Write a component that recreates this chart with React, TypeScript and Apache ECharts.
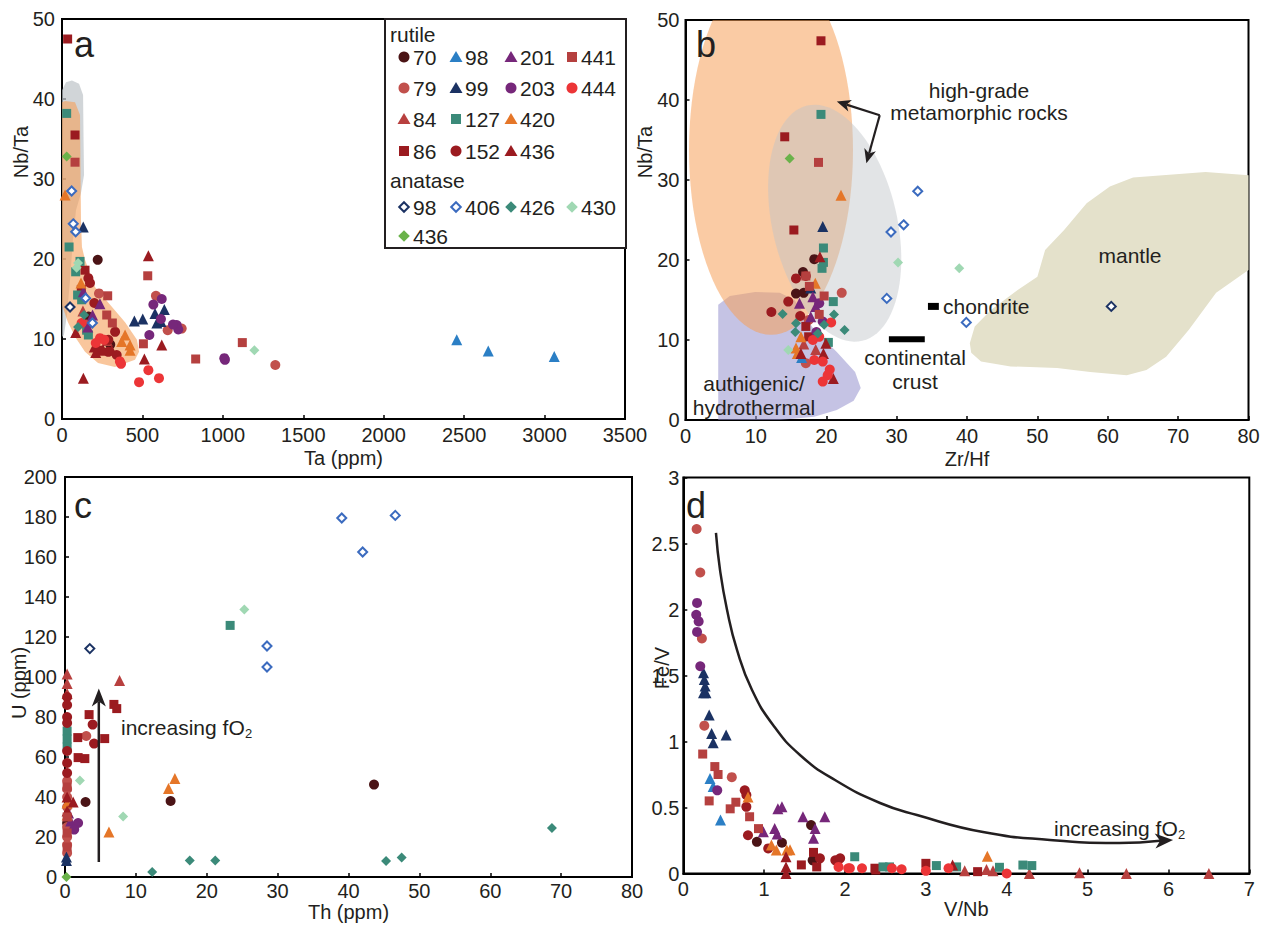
import React, { useEffect, useRef } from "react";
import * as echarts from "echarts";

type Pt = [number, number];

// ---------------- categories ----------------
const RUTILE_LEGEND: string[][] = [
  ["70", "79", "84", "86"],
  ["98", "99", "127", "152"],
  ["201", "203", "420", "436"],
  ["441", "444"],
];
const ANATASE_LEGEND: string[][] = [["98", "406", "426", "430"], ["436"]];

// ---------------- axis ranges [min, max, interval] ----------------
const TA_RANGE = [0, 3500, 500];
const NBTA_RANGE = [0, 50, 10];
const ZRHF_RANGE = [0, 80, 10];
const TH_RANGE = [0, 80, 10];
const U_RANGE = [0, 200, 20];
const VNB_RANGE = [0, 7, 1];
const FEV_RANGE = [0, 3, 0.5];

// ---------------- panel a: Ta (ppm) vs Nb/Ta ----------------
const a_r70: Pt[] = [[222, 19.9], [165, 12.8], [300, 9.3]];
const a_r79: Pt[] = [[230, 15.7], [584, 15.4], [657, 11.1], [744, 11.3], [1326, 6.75], [150, 11.8]];
const a_r84: Pt[] = [[280, 9.8], [130, 13.5]];
const a_r86: Pt[] = [[35, 47.5], [81, 35.5], [143, 18.6], [120, 16.2], [230, 8.6]];
const a_r98: Pt[] = [[2454, 9.9], [2650, 8.5], [3060, 7.8]];
const a_r99: Pt[] = [[132, 24], [636, 13.7], [578, 13.2], [615, 12.2], [450, 12.25], [502, 12.5], [590, 12.0]];
const a_r127: Pt[] = [[29, 38.2], [44, 21.5], [112, 19.7], [85, 18.4], [97, 15.5], [122, 14.9], [153, 11.1], [164, 10.5]];
const a_r152: Pt[] = [[164, 17.6], [174, 17], [201, 14.5], [330, 10.9], [288, 9.9], [340, 8], [288, 8.4]];
const a_r201: Pt[] = [[133, 15.9], [236, 14.4], [190, 13], [160, 11.5]];
const a_r203: Pt[] = [[620, 15], [568, 14.3], [615, 12.5], [713, 11.75], [723, 11.2], [543, 10.5], [1009, 7.6], [1013, 7.4], [690, 11.8]];
const a_r420: Pt[] = [[19, 28], [118, 17], [392, 10.5], [423, 9.25], [371, 9.7], [423, 8.6]];
const a_r436: Pt[] = [[537, 20.4], [85, 10.8], [620, 9.25], [201, 9], [257, 8.6], [210, 8.3], [309, 8.6], [512, 7.5], [133, 5.1]];
const a_r441: Pt[] = [[81, 32.1], [533, 17.9], [284, 15.4], [278, 13], [313, 12], [506, 9.4], [831, 7.5], [1121, 9.55]];
const a_r444: Pt[] = [[122, 12], [236, 10.1], [263, 9.9], [360, 7.2], [367, 6.9], [537, 6.1], [603, 5.1], [479, 4.6], [210, 9.5]];
const a_a98: Pt[] = [[50, 14]];
const a_a406: Pt[] = [[60, 28.5], [70, 24.4], [85, 23.4], [147, 15.1], [189, 12]];
const a_a426: Pt[] = [[137, 13], [100, 11.5]];
const a_a430: Pt[] = [[100, 19.5], [91, 18.9], [1196, 8.6]];
const a_a436: Pt[] = [[29, 32.8]];

// ---------------- panel b: Zr/Hf vs Nb/Ta ----------------
const b_r70: Pt[] = [[18.3, 20.1], [16.7, 18.5], [15.7, 15.8], [16.8, 15.9]];
const b_r79: Pt[] = [[22.2, 15.9], [17.1, 7.1], [17.5, 12.5]];
const b_r84: Pt[] = [[16.8, 9.5], [18.5, 8.8]];
const b_r86: Pt[] = [[19.25, 47.4], [14.1, 35.4], [15.4, 23.75], [17.1, 11.7], [17.5, 10.4]];
const b_r98: Pt[] = [[16.5, 7.8]];
const b_r99: Pt[] = [[19.5, 24.2], [17.8, 16.5]];
const b_r127: Pt[] = [[19.25, 38.2], [19.6, 21.5], [19.4, 18.96], [19.6, 19.7], [21, 14.8], [20.3, 9.7]];
const b_r152: Pt[] = [[15.7, 17.7], [14.6, 14.8], [12.2, 13.5], [17.1, 18.0], [16.3, 13.0]];
const b_r201: Pt[] = [[16.2, 14.6], [18.1, 15.4], [18.5, 14.2], [17.8, 12.9]];
const b_r203: Pt[] = [[19, 14.6], [19.5, 12.3], [18.6, 11.0]];
const b_r420: Pt[] = [[22.1, 28.1], [18.45, 17.1], [16.4, 10.4], [15.7, 9.0], [15.9, 8.3]];
const b_r436: Pt[] = [[19.1, 20.4], [16.4, 8.3], [19.6, 8.3], [21, 5.2], [19.95, 9.6]];
const b_r441: Pt[] = [[18.9, 32.2], [17.1, 18.0], [19.7, 15.5], [17.6, 16.7], [19, 13.2]];
const b_r444: Pt[] = [[20.7, 12.2], [19, 10.4], [18.1, 10], [18.3, 7.5], [19.5, 7.3], [20.5, 6.3], [20.2, 5.6], [19.5, 4.8]];
const b_a98: Pt[] = [[60.5, 14.2]];
const b_a406: Pt[] = [[33, 28.6], [31, 24.4], [29.2, 23.5], [28.6, 15.2], [39.9, 12.2]];
const b_a426: Pt[] = [[13.8, 13.25], [21.1, 13.2], [22.6, 11.25], [15.7, 12.1], [15.6, 11.0], [19.7, 11.9], [18.8, 10.8]];
const b_a430: Pt[] = [[30.2, 19.7], [38.9, 18.96], [14.6, 8.75]];
const b_a436: Pt[] = [[14.8, 32.7]];

// ---------------- panel c: Th (ppm) vs U (ppm) ----------------
const c_r70: Pt[] = [[2.9, 37.5], [14.9, 38], [43.6, 46.2], [0.3, 27]];
const c_r79: Pt[] = [[3.0, 70.5], [0.3, 48], [0.3, 44], [0.3, 40], [0.3, 35], [0.3, 25], [0.3, 20], [0.3, 16], [0.3, 12]];
const c_r84: Pt[] = [[0.3, 101.5], [0.3, 96.7], [0.3, 91.7], [7.7, 98.3]];
const c_r86: Pt[] = [[6.9, 86.3], [7.3, 84.2], [3.4, 81.2], [1.8, 69.7], [5.6, 69.2], [1.85, 59.7], [2.8, 59.2]];
const c_r99: Pt[] = [[0.2, 8.3], [0.2, 10]];
const c_r127: Pt[] = [[23.3, 125.8], [0.3, 73], [0.3, 69], [0.3, 65]];
const c_r152: Pt[] = [[3.9, 76.2], [4.1, 66.7], [0.3, 90], [0.3, 86], [0.3, 80], [0.3, 77], [0.3, 63], [0.3, 57], [0.3, 52]];
const c_r201: Pt[] = [[0.5, 32], [0.8, 28]];
const c_r203: Pt[] = [[1.85, 27], [1.3, 23.7]];
const c_r420: Pt[] = [[15.5, 49.2], [14.6, 44.2], [6.2, 22.5], [0.3, 37], [0.3, 31]];
const c_r436: Pt[] = [[1.15, 37.5], [0.3, 40], [0.3, 33]];
const c_r441: Pt[] = [[0.3, 45], [0.3, 30], [0.3, 22], [0.3, 15]];
const c_a98: Pt[] = [[3.5, 114.2]];
const c_a406: Pt[] = [[28.5, 115.5], [28.5, 105], [39.05, 179.5], [46.6, 180.8], [42, 162.5]];
const c_a426: Pt[] = [[12.3, 2.5], [17.6, 8.3], [21.2, 8.3], [45.3, 8], [47.5, 9.7], [68.7, 24.5]];
const c_a430: Pt[] = [[25.3, 133.7], [2.1, 48.3], [8.2, 30.3]];
const c_a436: Pt[] = [[0.2, 0]];

// ---------------- panel d: V/Nb vs Fe/V ----------------
const d_r70: Pt[] = [[0.91, 0.24], [1.22, 0.233], [1.58, 0.367], [1.6, 0.1]];
const d_r79: Pt[] = [[0.165, 2.61], [0.21, 2.28], [0.23, 1.78], [0.26, 1.12], [0.6, 0.73]];
const d_r84: Pt[] = [[3.48, 0.02], [3.75, 0.03], [3.83, 0.02], [4.28, 0], [4.9, 0.006], [5.48, 0], [6.5, 0]];
const d_r86: Pt[] = [[1.46, 0.065], [1.61, 0.16], [1.65, 0.05], [2.37, 0.04], [2.38, 0.026], [3.0, 0.077], [3.64, 0.014]];
const d_r98: Pt[] = [[0.33, 0.72], [0.37, 0.66], [0.46, 0.405]];
const d_r99: Pt[] = [[0.25, 1.52], [0.26, 1.47], [0.27, 1.42], [0.28, 1.37], [0.25, 1.37], [0.32, 1.2], [0.35, 1.06], [0.53, 1.05], [0.37, 0.99]];
const d_r127: Pt[] = [[2.12, 0.127], [2.47, 0.05], [2.55, 0.05], [3.13, 0.06], [3.38, 0.05], [3.91, 0.047], [4.2, 0.064], [4.31, 0.06]];
const d_r152: Pt[] = [[0.76, 0.63], [0.78, 0.595], [0.78, 0.505], [0.8, 0.29], [1.05, 0.19], [1.69, 0.115], [1.88, 0.1], [1.94, 0.115]];
const d_r201: Pt[] = [[1.17, 0.49], [1.22, 0.505], [1.48, 0.43], [1.75, 0.43], [0.99, 0.317], [1.13, 0.34], [1.63, 0.34], [1.61, 0.267], [1.16, 0.3]];
const d_r203: Pt[] = [[0.17, 2.05], [0.16, 1.96], [0.19, 1.91], [0.17, 1.83], [0.21, 1.57], [0.42, 0.63]];
const d_r420: Pt[] = [[0.8, 0.58], [1.09, 0.216], [1.15, 0.178], [1.28, 0.178], [1.32, 0.18], [3.76, 0.13]];
const d_r436: Pt[] = [[1.27, 0.127], [1.27, 0.05], [1.27, 0.0], [3.33, 0.064]];
const d_r441: Pt[] = [[0.24, 0.905], [0.39, 0.81], [0.43, 0.75], [0.32, 0.55], [0.58, 0.49], [0.65, 0.54], [0.82, 0.43], [0.93, 0.34]];
const d_r444: Pt[] = [[1.92, 0.05], [2.04, 0.04], [2.21, 0.04], [2.06, 0.04], [2.58, 0.04], [2.7, 0.032], [3.0, 0.02], [3.28, 0.04], [4.0, 0.0]];

// ---------------- field outlines (data coordinates) ----------------
const A_GRAY_FIELD: Pt[] = [[0, 41.1], [25, 42.1], [62, 42.3], [106, 41.9], [131, 40.5], [134, 34.9], [137, 30.5], [118, 28.25], [87, 26.1], [68, 22.4], [50, 17.4], [31, 13], [12, 10.5], [0, 10.25]];
const A_ORANGE_FIELD: Pt[] = [[0, 39.6], [19, 39.75], [81, 39.6], [112, 38.0], [118, 24.9], [124, 21.5], [143, 19.9], [205, 16.5], [311, 14.0], [392, 12.1], [466, 9.9], [479, 8.4], [454, 7.4], [329, 6.5], [224, 7.0], [143, 8.4], [87, 10.1], [37, 12.1], [0, 14.25]];
const B_PURPLE_FIELD: Pt[] = [[4.65, 14.4], [6.3, 15.5], [9.9, 16.0], [13.4, 15.9], [15.5, 15.0], [18.3, 11.25], [21.5, 8.5], [24.1, 6.0], [24.9, 4.0], [23.9, 2.4], [21.5, 1.25], [18.3, 0.4], [13.4, 0], [4.65, 0]];
const B_MANTLE_FIELD: Pt[] = [[40.4, 9.6], [41.1, 11.7], [43.4, 13.75], [47.2, 16.25], [50.0, 17.9], [51.1, 21.25], [53.8, 23.75], [57.0, 27.1], [60.3, 29.2], [63.6, 30.3], [73.9, 31.0], [80, 30.6], [80, 18.75], [75.4, 15.9], [71.5, 11.25], [68.3, 7.9], [65.5, 6.25], [62.7, 5.6], [57.5, 6.0], [52.8, 6.5], [46.2, 6.7], [42.0, 7.3], [40.6, 8.4]];
// ellipses: [centre x, centre y, radius x, radius y] in data units
const B_ORANGE_ELLIPSE = [12.15, 33.75, 11.65, 23.1];
const B_GRAY_ELLIPSE = [21.2, 24.6, 8.85, 15.1];
// reference values
const CONT_CRUST: Pt[] = [[28.9, 10.1], [34.0, 10.1]];
const CHONDRITE: Pt[] = [[34.45, 14.2], [36.0, 14.2]];
// annotation arrows
const B_ARROW1: Pt[] = [[27.6, 38.1], [21.5, 39.8]];
const B_ARROW2: Pt[] = [[27.6, 38.1], [25.7, 32.1]];
const C_ARROW: Pt[] = [[4.77, 7.5], [4.77, 94.2]];
const D_CURVE: Pt[] = [[0.404, 2.58], [0.454, 2.3], [0.54, 2.0], [0.664, 1.694], [0.85, 1.39], [1.11, 1.125], [1.443, 0.898], [1.876, 0.708], [2.433, 0.534], [2.89, 0.443], [3.707, 0.314], [4.535, 0.254], [5.364, 0.231], [6.057, 0.254]];

const FONT = '"Liberation Sans", Arial, Helvetica, sans-serif';
const INK = "#231f20";

const STYLE: Record<string, { sym: string; color: string; open?: boolean; label: string; kind: string }> = {
  R70: { sym: "circle", color: "#4b1416", label: "70", kind: "rutile" },
  R79: { sym: "circle", color: "#c1504c", label: "79", kind: "rutile" },
  R84: { sym: "triangle", color: "#b8403f", label: "84", kind: "rutile" },
  R86: { sym: "rect", color: "#9b1b20", label: "86", kind: "rutile" },
  R98: { sym: "triangle", color: "#2b7fc5", label: "98", kind: "rutile" },
  R99: { sym: "triangle", color: "#1b3263", label: "99", kind: "rutile" },
  R127: { sym: "rect", color: "#3b8a79", label: "127", kind: "rutile" },
  R152: { sym: "circle", color: "#9b1b20", label: "152", kind: "rutile" },
  R201: { sym: "triangle", color: "#76277a", label: "201", kind: "rutile" },
  R203: { sym: "circle", color: "#76277a", label: "203", kind: "rutile" },
  R420: { sym: "triangle", color: "#e57628", label: "420", kind: "rutile" },
  R436: { sym: "triangle", color: "#9b1b20", label: "436", kind: "rutile" },
  R441: { sym: "rect", color: "#b5403f", label: "441", kind: "rutile" },
  R444: { sym: "circle", color: "#ec3537", label: "444", kind: "rutile" },
  A98: { sym: "diamond", color: "#1b3263", open: true, label: "98", kind: "anatase" },
  A406: { sym: "diamond", color: "#3b6bbf", open: true, label: "406", kind: "anatase" },
  A426: { sym: "diamond", color: "#3b8a79", label: "426", kind: "anatase" },
  A430: { sym: "diamond", color: "#a0d8b3", label: "430", kind: "anatase" },
  A436: { sym: "diamond", color: "#6ab24a", label: "436", kind: "anatase" },
};

const ORDER = ["R70", "R79", "R84", "R86", "R98", "R99", "R127", "R152", "R201", "R203", "R420", "R436", "R441", "R444", "A98", "A406", "A426", "A430", "A436"];

const PANEL_A: Record<string, Pt[]> = { R70: a_r70, R79: a_r79, R84: a_r84, R86: a_r86, R98: a_r98, R99: a_r99, R127: a_r127, R152: a_r152, R201: a_r201, R203: a_r203, R420: a_r420, R436: a_r436, R441: a_r441, R444: a_r444, A98: a_a98, A406: a_a406, A426: a_a426, A430: a_a430, A436: a_a436 };
const PANEL_B: Record<string, Pt[]> = { R70: b_r70, R79: b_r79, R84: b_r84, R86: b_r86, R98: b_r98, R99: b_r99, R127: b_r127, R152: b_r152, R201: b_r201, R203: b_r203, R420: b_r420, R436: b_r436, R441: b_r441, R444: b_r444, A98: b_a98, A406: b_a406, A426: b_a426, A430: b_a430, A436: b_a436 };
const PANEL_C: Record<string, Pt[]> = { R70: c_r70, R79: c_r79, R84: c_r84, R86: c_r86, R99: c_r99, R127: c_r127, R152: c_r152, R201: c_r201, R203: c_r203, R420: c_r420, R436: c_r436, R441: c_r441, A98: c_a98, A406: c_a406, A426: c_a426, A430: c_a430, A436: c_a436 };
const PANEL_D: Record<string, Pt[]> = { R70: d_r70, R79: d_r79, R84: d_r84, R86: d_r86, R98: d_r98, R99: d_r99, R127: d_r127, R152: d_r152, R201: d_r201, R203: d_r203, R420: d_r420, R436: d_r436, R441: d_r441, R444: d_r444 };
const PANELS = [PANEL_A, PANEL_B, PANEL_C, PANEL_D];

function symSize(sym: string, open?: boolean): number {
  if (open) return 9;
  if (sym === "circle") return 10;
  if (sym === "rect") return 9;
  if (sym === "triangle") return 11;
  return 10;
}

function polySeries(p: number, pts: Pt[], fill: string, z: number) {
  return {
    type: "custom", coordinateSystem: "cartesian2d", xAxisIndex: p, yAxisIndex: p,
    clip: true, silent: true, z, data: [pts[0]],
    renderItem: (_params: any, api: any) => ({
      type: "polygon",
      shape: { points: pts.map((q) => api.coord(q)) },
      style: { fill, stroke: "none" },
    }),
  };
}

function ellipseSeries(p: number, e: number[], tilt: number, fill: string, z: number) {
  return {
    type: "custom", coordinateSystem: "cartesian2d", xAxisIndex: p, yAxisIndex: p,
    clip: true, silent: true, z, data: [[e[0], e[1]]],
    renderItem: (_params: any, api: any) => {
      const c = api.coord([e[0], e[1]]);
      const rx = api.size([e[2], 0])[0];
      const ry = api.size([0, e[3]])[1];
      const pts: number[][] = [];
      const cs = Math.cos(tilt), sn = Math.sin(tilt);
      for (let i = 0; i < 96; i++) {
        const t = (i / 96) * Math.PI * 2;
        const lx = rx * Math.cos(t), ly = ry * Math.sin(t);
        pts.push([c[0] + lx * cs - ly * sn, c[1] + lx * sn + ly * cs]);
      }
      return { type: "polygon", shape: { points: pts }, style: { fill, stroke: "none" } };
    },
  };
}

function barSeries(p: number, seg: Pt[], h: number) {
  return {
    type: "custom", coordinateSystem: "cartesian2d", xAxisIndex: p, yAxisIndex: p,
    clip: false, silent: true, z: 4, data: [seg[0]],
    renderItem: (_params: any, api: any) => {
      const a = api.coord(seg[0]);
      const b = api.coord(seg[1]);
      return { type: "rect", shape: { x: a[0], y: a[1] - h / 2, width: b[0] - a[0], height: h }, style: { fill: "#000" } };
    },
  };
}

function arrowSeries(p: number, pts: Pt[], smooth: number, headLen: number, headW: number, lw: number) {
  return {
    type: "custom", coordinateSystem: "cartesian2d", xAxisIndex: p, yAxisIndex: p,
    clip: false, silent: true, z: 5, data: [pts[0]],
    renderItem: (_params: any, api: any) => {
      const P = pts.map((q) => api.coord(q));
      const n = P.length;
      const a = P[n - 2], b = P[n - 1];
      const ang = Math.atan2(b[1] - a[1], b[0] - a[0]);
      const ux = Math.cos(ang), uy = Math.sin(ang);
      const nx = -uy, ny = ux;
      const base = [b[0] - headLen * ux, b[1] - headLen * uy];
      const inner = [b[0] - headLen * 0.72 * ux, b[1] - headLen * 0.72 * uy];
      const head = [b, [base[0] + nx * headW, base[1] + ny * headW], inner, [base[0] - nx * headW, base[1] - ny * headW]];
      const line = P.slice(0, n - 1).concat([inner]);
      return {
        type: "group",
        children: [
          { type: "polyline", shape: { points: line, smooth }, style: { stroke: INK, lineWidth: lw, fill: "none" } },
          { type: "polygon", shape: { points: head }, style: { fill: INK } },
        ],
      };
    },
  };
}

function txt(text: string, x: number, y: number, size: number, align = "left", rotation = 0, extra: any = {}) {
  return {
    type: "text", x, y, rotation, z: 50, silent: true,
    style: { text, fill: INK, font: `${size}px ${FONT}`, textAlign: align, textVerticalAlign: "middle", ...extra },
  };
}

function legendSymbol(key: string, x: number, y: number) {
  const st = STYLE[key];
  const style: any = st.open ? { fill: "#fff", stroke: st.color, lineWidth: 2 } : { fill: st.color };
  const base = { z: 101, silent: true, style };
  if (st.sym === "circle") return { type: "circle", shape: { cx: x, cy: y, r: 5.5 }, ...base };
  if (st.sym === "rect") return { type: "rect", shape: { x: x - 5, y: y - 5, width: 10, height: 10 }, ...base };
  if (st.sym === "triangle") return { type: "polygon", shape: { points: [[x, y - 6], [x + 6.5, y + 5], [x - 6.5, y + 5]] }, ...base };
  const r = st.open ? 4.8 : 5.8;
  return { type: "polygon", shape: { points: [[x, y - r], [x + r, y], [x, y + r], [x - r, y]] }, ...base };
}

function buildOption() {
  const gridDefs = [
    { left: 62, top: 19, width: 563, height: 400 },
    { left: 685.5, top: 20, width: 563, height: 400 },
    { left: 65, top: 477, width: 567, height: 400 },
    { left: 683.3, top: 477.5, width: 566, height: 396 },
  ];
  const grid = gridDefs.map((g) => ({ ...g, show: true, borderColor: "#000", borderWidth: 2, backgroundColor: "rgba(0,0,0,0)", containLabel: false }));

  const mkAxis = (gi: number, r: number[], isX: boolean, margin: number, name = "", nameGap = 0) => ({
    type: "value", gridIndex: gi, min: r[0], max: r[1], interval: r[2],
    name, nameLocation: "middle", nameGap,
    nameTextStyle: { fontSize: 20, color: INK, fontFamily: FONT },
    axisLine: { show: true, onZero: false, lineStyle: { color: "#000", width: 2 } },
    axisTick: { show: true, inside: true, length: 4, lineStyle: { color: "#000", width: 1.5 } },
    axisLabel: {
      show: true, fontSize: 20, color: INK, fontFamily: FONT, margin, showMinLabel: true, showMaxLabel: true,
      formatter: (v: number) => String(v),
    },
    splitLine: { show: false },
    position: isX ? "bottom" : "left",
  });

  const xAxis = [
    mkAxis(0, TA_RANGE, true, 6, "Ta (ppm)", 29),
    mkAxis(1, ZRHF_RANGE, true, 6, "Zr/Hf", 29),
    mkAxis(2, TH_RANGE, true, 4, "Th (ppm)", 23),
    mkAxis(3, VNB_RANGE, true, 5, "V/Nb", 24),
  ];
  const yAxis = [
    mkAxis(0, NBTA_RANGE, false, 7),
    mkAxis(1, NBTA_RANGE, false, 6),
    mkAxis(2, U_RANGE, false, 8),
    mkAxis(3, FEV_RANGE, false, 4),
  ];

  const series: any[] = [];
  // fields
  series.push(polySeries(0, A_GRAY_FIELD, "rgba(190,195,200,0.7)", 1));
  series.push(polySeries(0, A_ORANGE_FIELD, "rgba(245,160,90,0.6)", 1));
  series.push(polySeries(1, B_MANTLE_FIELD, "#e4e1cb", 1));
  series.push(polySeries(1, B_PURPLE_FIELD, "rgba(150,145,205,0.55)", 1));
  series.push(ellipseSeries(1, B_ORANGE_ELLIPSE, 0, "rgba(245,160,90,0.55)", 1));
  series.push(ellipseSeries(1, B_GRAY_ELLIPSE, -0.23, "rgba(190,195,200,0.45)", 1));
  series.push(barSeries(1, CONT_CRUST, 6));
  series.push(barSeries(1, CHONDRITE, 7));
  series.push(arrowSeries(1, B_ARROW1, 0, 14, 6, 2.2));
  series.push(arrowSeries(1, B_ARROW2, 0, 14, 6, 2.2));
  series.push(arrowSeries(2, C_ARROW, 0, 18, 7, 2.5));
  series.push(arrowSeries(3, D_CURVE, 0.5, 18, 7.5, 2.5));

  PANELS.forEach((panel, p) => {
    ORDER.forEach((key) => {
      const d = panel[key];
      if (!d || !d.length) return;
      const st = STYLE[key];
      series.push({
        type: "scatter", name: `${st.kind} ${st.label}`, xAxisIndex: p, yAxisIndex: p,
        data: d, symbol: st.sym, symbolSize: symSize(st.sym, st.open), clip: false, silent: true, z: 3,
        itemStyle: st.open ? { color: "#fff", borderColor: st.color, borderWidth: 2, opacity: 1 } : { color: st.color, opacity: 1 },
      });
    });
  });

  // graphic: legend, panel letters, y-axis names, annotations
  const graphic: any[] = [];
  graphic.push({ type: "rect", z: 100, silent: true, shape: { x: 385, y: 19, width: 241, height: 229 }, style: { fill: "#fff", stroke: INK, lineWidth: 2 } });
  graphic.push(txt("rutile", 390, 34, 21));
  const colSym = [404, 456, 511, 572];
  const rowY = [57, 88, 119, 151];
  RUTILE_LEGEND.forEach((col, ci) => {
    col.forEach((lab, ri) => {
      graphic.push(legendSymbol("R" + lab, colSym[ci], rowY[ri]));
      graphic.push({ ...txt(lab, colSym[ci] + 9, rowY[ri], 21), z: 101 });
    });
  });
  graphic.push(txt("anatase", 390, 180, 21));
  const anaY = [207, 236];
  ANATASE_LEGEND.forEach((row, ri) => {
    row.forEach((lab, ci) => {
      graphic.push(legendSymbol("A" + lab, colSym[ci], anaY[ri]));
      graphic.push({ ...txt(lab, colSym[ci] + 9, anaY[ri], 21), z: 101 });
    });
  });
  graphic.forEach((g) => { if (g.type === "text") g.z = 101; });

  // panel letters
  graphic.push(txt("a", 74, 44, 36));
  graphic.push(txt("b", 696, 44, 36));
  graphic.push(txt("c", 74, 505, 36));
  graphic.push(txt("d", 686, 505, 36));
  // y axis names
  graphic.push(txt("Nb/Ta", 21, 152, 20, "center", Math.PI / 2));
  graphic.push(txt("Nb/Ta", 645, 152, 20, "center", Math.PI / 2));
  graphic.push(txt("U (ppm)", 19, 683, 20, "center", Math.PI / 2));
  graphic.push(txt("Fe/V", 662, 668, 20, "center", Math.PI / 2));
  // panel b labels
  graphic.push(txt("high-grade", 979, 90, 21, "center"));
  graphic.push(txt("metamorphic rocks", 979, 112, 21, "center"));
  graphic.push(txt("mantle", 1130, 255, 21, "center"));
  graphic.push(txt("chondrite", 943, 306, 21, "left"));
  graphic.push(txt("continental", 915, 357, 21, "center"));
  graphic.push(txt("crust", 915, 381, 21, "center"));
  graphic.push(txt("authigenic/", 754, 383, 21, "center"));
  graphic.push(txt("hydrothermal", 754, 407, 21, "center"));
  // increasing fO2 labels
  graphic.push(txt("increasing fO", 121, 727, 21, "left"));
  graphic.push(txt("2", 245, 733, 13, "left"));
  graphic.push(txt("increasing fO", 1054, 828, 21, "left"));
  graphic.push(txt("2", 1178, 834, 13, "left"));

  return { animation: false, backgroundColor: "#fff", grid, xAxis, yAxis, series, graphic };
}

export default function App() {
  const ref = useRef<HTMLDivElement>(null);
  useEffect(() => {
    if (!ref.current) return;
    const chart = echarts.init(ref.current, undefined, { renderer: "svg" });
    chart.setOption(buildOption() as any);
    return () => chart.dispose();
  }, []);
  return <div ref={ref} style={{ position: "absolute", left: 0, top: 0, width: 1264, height: 926, background: "#fff" }} />;
}
